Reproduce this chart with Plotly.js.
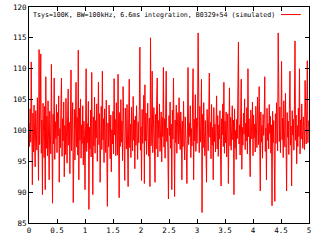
<!DOCTYPE html>
<html>
<head>
<meta charset="utf-8">
<script src="https://cdn.plot.ly/plotly-3.0.1.min.js"></script>
<style>
html,body{margin:0;padding:0;background:#fff;}
#chart{width:320px;height:240px;}
</style>
</head>
<body>
<div id="chart"></div>
<script>
// sampling step of the series (seconds)
var dt = 0.01;
// signal values, 10 per 0.1 s
var power = [
101.2, 97.4, 103.5, 98.1, 111.1, 99.3, 91.2, 102.8, 96.5, 104.1,
99.0, 94.1, 103.2, 100.6, 96.8, 105.3, 98.2, 91.9, 113.1, 97.7,
102.5, 112.4, 96.3, 101.7, 89.6, 104.4, 99.8, 95.6, 103.9, 90.4,
108.7, 97.1, 102.3, 95.9, 104.8, 98.6, 92.0, 103.1, 99.5, 96.2,
110.7, 96.9, 88.2, 102.6, 97.8, 108.5, 95.3, 101.4, 98.7, 104.2,
96.4, 102.9, 99.1, 105.6, 91.6, 100.3, 97.2, 103.7, 108.5, 95.8,
101.9, 98.3, 104.6, 92.5, 100.8, 96.1, 105.2, 98.9, 94.7, 102.4,
106.7, 97.6, 101.3, 93.0, 103.8, 109.8, 96.7, 100.2, 104.5, 88.3,
99.6, 103.4, 95.2, 101.8, 107.8, 97.3, 102.1, 96.0, 113.0, 92.0,
103.6, 98.4, 105.1, 95.5, 100.9, 97.9, 104.0, 94.4, 101.5, 99.2,
90.4, 103.0, 110.0, 96.6, 101.1, 98.0, 104.7, 87.2, 100.5, 97.0,
103.3, 95.7, 109.4, 99.9, 89.6, 102.2, 97.5, 105.4, 96.3, 101.6,
98.8, 104.3, 95.0, 100.7, 107.8, 97.7, 102.7, 91.6, 99.4, 103.9,
96.9, 109.6, 98.5, 101.9, 94.8, 103.5, 99.0, 96.4, 104.9, 98.2,
87.7, 101.2, 97.3, 104.1, 99.6, 95.4, 102.5, 93.3, 100.1, 97.8,
103.1, 96.2, 108.4, 99.3, 101.8, 95.9, 104.5, 98.6, 96.0, 109.1,
100.4, 89.1, 102.9, 97.4, 105.0, 98.1, 101.5, 95.1, 107.1, 99.7,
96.5, 91.9, 103.6, 100.0, 97.0, 104.2, 98.9, 90.9, 102.0, 108.3,
97.2, 101.0, 95.6, 103.8, 99.1, 96.7, 105.5, 98.4, 101.7, 93.8,
102.3, 97.6, 104.0, 99.5, 95.3, 101.4, 98.0, 103.2, 113.5, 96.8,
100.6, 91.9, 103.4, 97.9, 101.1, 105.7, 91.4, 107.4, 98.3, 102.8,
96.1, 100.9, 104.4, 98.7, 95.8, 102.0, 90.9, 115.0, 97.5, 101.3,
109.6, 96.4, 100.2, 103.7, 98.1, 91.6, 102.6, 97.0, 104.8, 108.5,
95.7, 101.6, 98.8, 104.3, 96.6, 100.8, 103.0, 94.9, 102.1, 99.0,
110.2, 97.3, 101.9, 95.5, 103.5, 109.6, 98.2, 100.4, 96.8, 88.9,
102.4, 99.2, 104.6, 97.1, 101.0, 90.4, 103.3, 98.6, 108.5, 96.0,
89.3, 101.7, 98.0, 104.1, 96.3, 100.6, 102.9, 97.8, 105.3, 99.4,
96.9, 103.0, 100.1, 92.0, 101.5, 97.4, 104.7, 98.5, 95.2, 102.2,
99.8, 96.2, 91.4, 103.6, 110.2, 97.7, 101.2, 99.0, 104.0, 95.6,
100.3, 97.5, 103.1, 110.0, 92.0, 101.8, 98.3, 105.8, 96.6, 102.0,
97.9, 101.4, 115.8, 99.5, 96.4, 103.9, 98.1, 100.7, 108.3, 86.7,
102.6, 97.2, 104.5, 99.8, 95.9, 101.6, 98.4, 91.6, 103.4, 100.0,
96.7, 102.8, 109.3, 98.9, 101.3, 95.4, 104.2, 97.6, 100.5, 92.0,
103.7, 98.2, 101.0, 96.5, 99.7, 105.6, 97.0, 102.4, 95.8, 100.9,
98.6, 103.2, 96.1, 91.0, 101.9, 99.3, 104.3, 97.4, 107.8, 96.3,
101.5, 98.0, 103.0, 95.7, 100.2, 102.7, 91.4, 99.1, 106.9, 97.5,
102.1, 96.8, 100.6, 104.0, 98.5, 101.7, 89.6, 103.5, 97.1, 100.0,
95.3, 101.8, 98.7, 103.6, 114.3, 97.8, 100.9, 96.0, 104.4, 108.3,
93.7, 100.5, 97.6, 102.8, 99.4, 105.1, 96.9, 101.2, 98.3, 103.7,
96.2, 110.0, 99.0, 101.9, 97.3, 92.5, 103.3, 100.1, 98.6, 104.6,
95.9, 102.5, 98.8, 101.0, 96.5, 103.9, 99.6, 97.2, 105.4, 100.3,
97.7, 107.1, 101.4, 90.2, 103.0, 98.1, 100.8, 95.5, 102.6, 99.2,
101.9, 108.7, 96.6, 100.4, 92.0, 103.6, 98.4, 101.1, 97.0, 104.2,
99.5, 102.3, 96.3, 100.9, 87.8, 103.1, 98.0, 101.6, 95.1, 88.5,
102.7, 97.9, 104.5, 99.1, 96.7, 115.8, 100.6, 98.2, 103.8, 96.4,
101.3, 111.2, 98.5, 102.0, 95.6, 104.8, 99.7, 97.3, 106.0, 100.2,
90.2, 102.9, 98.9, 101.5, 96.1, 103.4, 109.6, 97.6, 100.7, 91.0,
103.2, 99.3, 101.8, 96.8, 104.1, 114.5, 98.4, 102.5, 94.6, 100.8,
97.4, 103.6, 99.0, 110.0, 96.2, 101.7, 98.6, 104.3, 100.0, 97.1,
102.2, 99.4, 96.9, 108.1, 100.9, 97.8, 103.5, 111.3, 98.0, 101.6
];
var seriesName = "Tsys=100K, BW=100kHz, 6.6ms integration, B0329+54 (simulated)";
var xTicks = [0, 0.5, 1, 1.5, 2, 2.5, 3, 3.5, 4, 4.5, 5];
var xTickText = ["0", "0.5", "1", "1.5", "2", "2.5", "3", "3.5", "4", "4.5", "5"];
var yTicks = [85, 90, 95, 100, 105, 110, 115, 120];

var time = power.map(function (v, i) { return i * dt; });

var font = "DejaVu Sans Mono, monospace";
var trace = {
  x: time, y: power, type: "scatter", mode: "lines",
  line: {color: "rgb(255,0,0)", width: 1},
  name: seriesName, showlegend: false, hoverinfo: "none"
};
var axisCommon = {
  showgrid: false, zeroline: false, showline: true, linecolor: "#000", linewidth: 1,
  mirror: "ticks", ticks: "inside", ticklen: 4, tickcolor: "#000", tickwidth: 1,
  tickfont: {family: font, size: 7.5, color: "#000"}
};
var layout = {
  width: 320, height: 240,
  margin: {l: 29, r: 11, t: 7, b: 17, pad: 0},
  paper_bgcolor: "#fff", plot_bgcolor: "#fff",
  showlegend: false,
  xaxis: Object.assign({}, axisCommon, {range: [0, 5], tickmode: "array", tickvals: xTicks, ticktext: xTickText}),
  yaxis: Object.assign({}, axisCommon, {range: [85, 120], tickmode: "array", tickvals: yTicks, ticktext: yTicks.map(String)}),
  annotations: [{
    xref: "paper", yref: "paper", x: 0.886, y: 0.965, xanchor: "right", yanchor: "middle",
    text: seriesName, showarrow: false, font: {family: font, size: 6.6, color: "#000"}
  }],
  shapes: [{
    type: "line", xref: "paper", yref: "paper", x0: 0.9, x1: 0.971, y0: 0.965, y1: 0.965,
    line: {color: "rgb(255,0,0)", width: 1}
  }]
};
Plotly.newPlot("chart", [trace], layout, {staticPlot: true, displayModeBar: false});
</script>
</body>
</html>
